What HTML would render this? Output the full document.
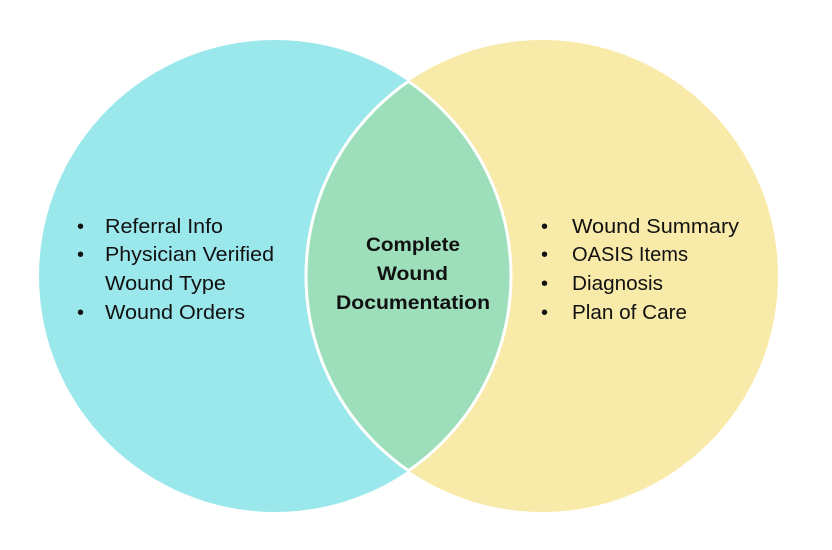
<!DOCTYPE html>
<html><head><meta charset="utf-8"><style>html,body{margin:0;padding:0;background:#fff}svg{display:block}</style></head>
<body>
<svg width="832" height="550" viewBox="0 0 832 550" xmlns="http://www.w3.org/2000/svg">
<defs><clipPath id="cl"><circle cx="275" cy="276" r="236"/></clipPath><clipPath id="cr"><circle cx="542" cy="276" r="236"/></clipPath></defs>
<circle cx="275" cy="276" r="236" fill="#9be8ec"/>
<circle cx="542" cy="276" r="236" fill="#f8eaa8"/>
<circle cx="542" cy="276" r="236" fill="#9ddfbb" clip-path="url(#cl)"/>
<circle cx="542" cy="276" r="236" fill="none" stroke="#fff" stroke-width="3" clip-path="url(#cl)"/>
<circle cx="275" cy="276" r="236" fill="none" stroke="#fff" stroke-width="3" clip-path="url(#cr)"/>
<g font-family="Liberation Sans, sans-serif" font-size="20" fill="#111">
<text x="77" y="233">•</text><text x="105" y="233" textLength="118" lengthAdjust="spacingAndGlyphs">Referral Info</text>
<text x="77" y="261">•</text><text x="105" y="261" textLength="169" lengthAdjust="spacingAndGlyphs">Physician Verified</text>
<text x="105" y="290" textLength="121" lengthAdjust="spacingAndGlyphs">Wound Type</text>
<text x="77" y="319">•</text><text x="105" y="319" textLength="140" lengthAdjust="spacingAndGlyphs">Wound Orders</text>
<text x="541" y="233">•</text><text x="572" y="233" textLength="167" lengthAdjust="spacingAndGlyphs">Wound Summary</text>
<text x="541" y="261">•</text><text x="572" y="261" textLength="116" lengthAdjust="spacingAndGlyphs">OASIS Items</text>
<text x="541" y="290">•</text><text x="572" y="290" textLength="91" lengthAdjust="spacingAndGlyphs">Diagnosis</text>
<text x="541" y="319">•</text><text x="572" y="319" textLength="115" lengthAdjust="spacingAndGlyphs">Plan of Care</text>
</g>
<g font-family="Liberation Sans, sans-serif" font-size="19.5" font-weight="bold" fill="#111">
<text x="366" y="251" textLength="94" lengthAdjust="spacingAndGlyphs">Complete</text>
<text x="377" y="280" textLength="71" lengthAdjust="spacingAndGlyphs">Wound</text>
<text x="336" y="309" textLength="154" lengthAdjust="spacingAndGlyphs">Documentation</text>
</g>
</svg>
</body></html>
